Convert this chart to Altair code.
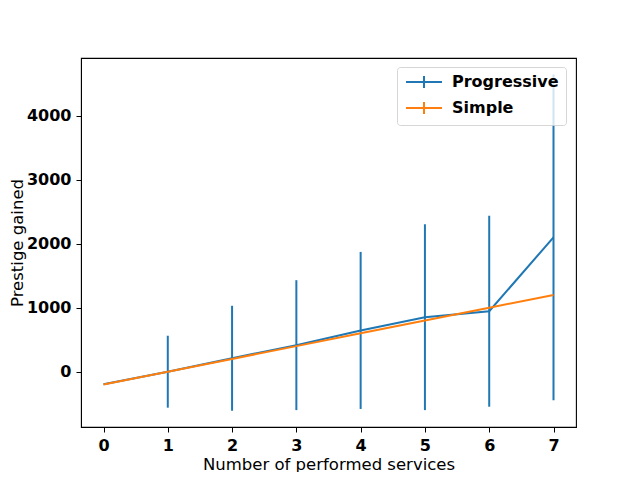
import altair as alt
import pandas as pd

services = [0, 1, 2, 3, 4, 5, 6, 7]
progressive = [-195, 0, 210, 415, 645, 852, 945, 2100]
progressive_err = [0, 562, 820, 1015, 1227, 1452, 1492, 2545]
simple = [-200, 0, 200, 400, 600, 800, 1000, 1200]
series_names = ["Progressive", "Simple"]
colors = ["#1f77b4", "#ff7f0e"]

lines = pd.DataFrame({
    "x": services * 2,
    "y": progressive + simple,
    "series": [series_names[0]] * 8 + [series_names[1]] * 8,
})
bars = pd.DataFrame({
    "x": services,
    "lo": [m - e for m, e in zip(progressive, progressive_err)],
    "hi": [m + e for m, e in zip(progressive, progressive_err)],
})

FONT = "DejaVu Sans"
xscale = alt.Scale(domain=[-0.35, 7.35], nice=False, zero=False)
yscale = alt.Scale(domain=[-864, 4902], nice=False, zero=False)

xaxis = alt.Axis(values=services, format="d", title="Number of performed services", grid=False,
                 labelFont=FONT, labelFontSize=16, labelFontWeight="bold", labelColor="black",
                 labelPadding=5, tickSize=5, tickColor="black", domainColor="black",
                 titleFont=FONT, titleFontSize=16.5, titleFontWeight="normal", titleColor="black",
                 titleY=42, titleBaseline="alphabetic", labelFlush=False)
yaxis = alt.Axis(values=[0, 1000, 2000, 3000, 4000], format="d", title="Prestige gained", grid=False,
                 labelFont=FONT, labelFontSize=16, labelFontWeight="bold", labelColor="black",
                 labelPadding=5, tickSize=5, tickColor="black", domainColor="black",
                 titleFont=FONT, titleFontSize=16.5, titleFontWeight="normal", titleColor="black",
                 titleX=-64, titleY=184.5, titleAngle=270, titleAlign="center",
                 titleBaseline="middle", labelFlush=False)

err = alt.Chart(bars).mark_rule(color=colors[0], strokeWidth=2).encode(
    x=alt.X("x:Q", scale=xscale, axis=xaxis),
    y=alt.Y("lo:Q", scale=yscale, axis=yaxis),
    y2="hi:Q",
)

line = alt.Chart(lines).mark_line(strokeWidth=2).encode(
    x=alt.X("x:Q", scale=xscale),
    y=alt.Y("y:Q", scale=yscale),
    color=alt.Color("series:N", scale=alt.Scale(domain=series_names, range=colors),
                    title=None,
                    legend=alt.Legend(orient="none", legendX=316, legendY=9,
                                      symbolType="M-1,0H5M2,-1V1", symbolSize=144,
                                      symbolStrokeWidth=2, symbolFillColor="transparent",
                                      labelOffset=32, labelFont=FONT, labelFontSize=16,
                                      labelFontWeight="bold", labelColor="black",
                                      padding=7, rowPadding=6,
                                      fillColor="rgba(255,255,255,0.8)",
                                      strokeColor="rgba(204,204,204,0.8)",
                                      cornerRadius=3)),
)

chart = alt.layer(err, line).properties(
    width=495, height=369,
    background="white",
    autosize=alt.AutoSizeParams(type="none"),
    padding={"left": 73, "top": 50, "right": 56, "bottom": 45},
).configure_view(stroke="black", strokeWidth=1.1)

chart.save("out.html", embed_options={"renderer": "svg", "actions": False})
